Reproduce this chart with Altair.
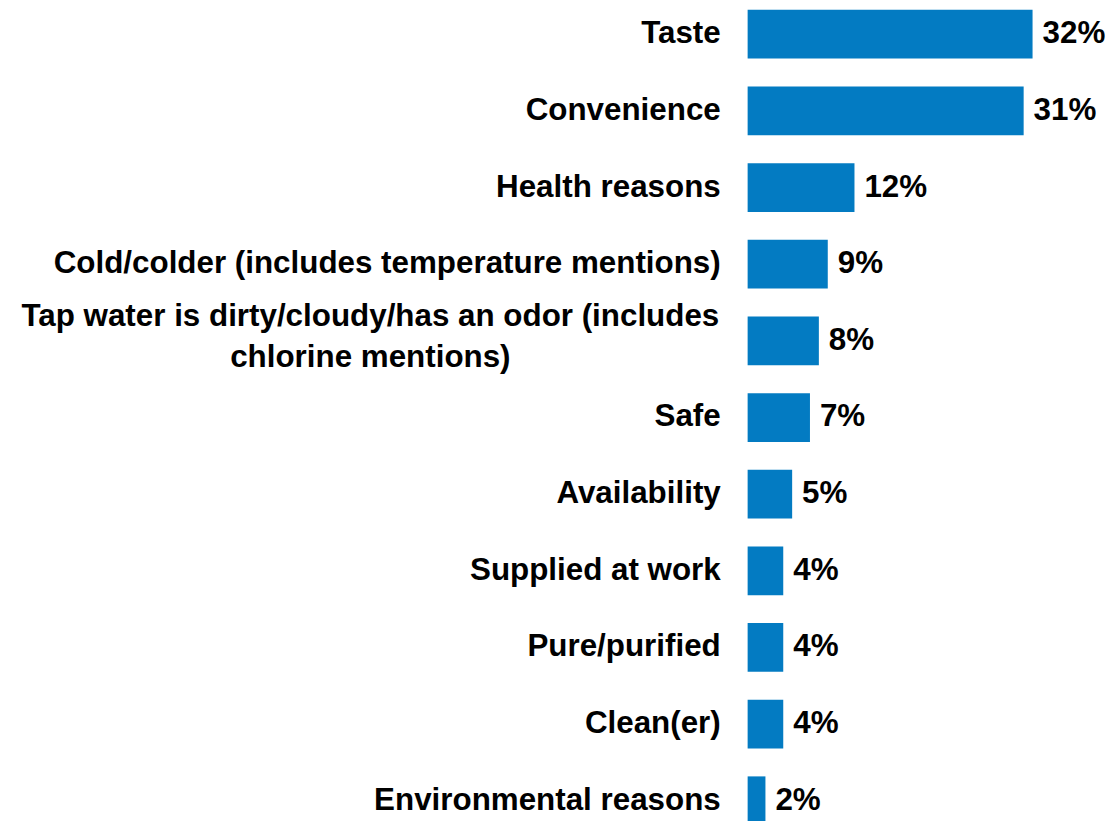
import altair as alt
import pandas as pd

categories = [
    "Taste",
    "Convenience",
    "Health reasons",
    "Cold/colder (includes temperature mentions)",
    "Tap water is dirty/cloudy/has an odor (includes\nchlorine mentions)",
    "Safe",
    "Availability",
    "Supplied at work",
    "Pure/purified",
    "Clean(er)",
    "Environmental reasons",
]
values = [32, 31, 12, 9, 8, 7, 5, 4, 4, 4, 2]
value_labels = ["32%", "31%", "12%", "9%", "8%", "7%", "5%", "4%", "4%", "4%", "2%"]

df = pd.DataFrame({
    "category": categories,
    "value": values,
    "label": value_labels,
    "multi": ["\n" in c for c in categories],
})

FONT = "Liberation Sans"
FS = 31.5
BLUE = "#037BC2"

y_enc = alt.Y(
    "category:N",
    sort=categories,
    axis=None,
    scale=alt.Scale(paddingInner=0.364, paddingOuter=0),
)

x_scale = alt.Scale(domain=[0, 36], nice=False)

base = alt.Chart(df)

bars = base.mark_bar(color=BLUE).encode(
    x=alt.X("value:Q", axis=None, scale=x_scale),
    y=y_enc,
)

values_text = base.mark_text(
    align="left", baseline="middle", dx=10,
    font=FONT, fontSize=FS, fontWeight="bold", color="black",
).encode(
    x=alt.X("value:Q", scale=x_scale),
    y=y_enc,
    text="label:N",
)

cat_single = base.transform_filter("!datum.multi").mark_text(
    align="right", baseline="middle", dx=-27,
    font=FONT, fontSize=FS, fontWeight="bold", color="black",
).encode(
    x=alt.value(0),
    y=y_enc,
    text="category:N",
)

cat_multi = base.transform_filter("datum.multi").mark_text(
    align="center", baseline="middle", dx=-379, dy=-24,
    lineBreak="\n", lineHeight=41.5,
    font=FONT, fontSize=FS, fontWeight="bold", color="black",
).encode(
    x=alt.value(0),
    y=y_enc,
    text="category:N",
)

chart = alt.layer(bars, values_text, cat_single, cat_multi).properties(
    width=322,
    height=819,
    padding={"left": 13, "top": -1, "right": 0, "bottom": 0},
).configure_view(stroke=None)

chart.save("out.html", embed_options={"renderer": "svg", "actions": False})
